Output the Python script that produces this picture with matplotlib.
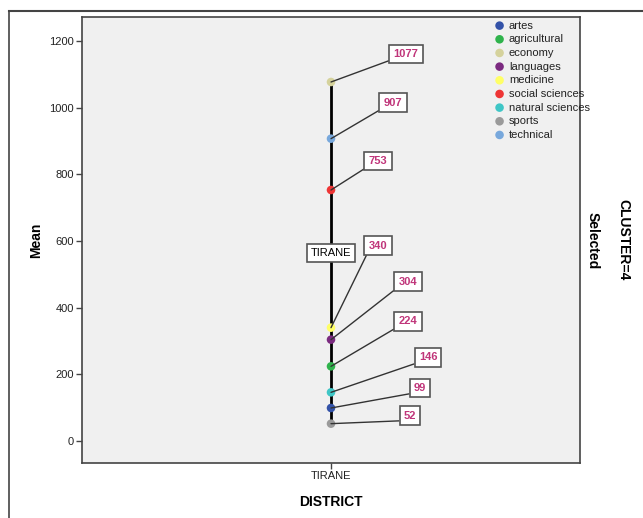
## SPSS style dot plot - mean by field, district TIRANE, cluster 4
import matplotlib
matplotlib.use('Agg')
import matplotlib.pyplot as plt
from matplotlib.lines import Line2D

plt.rcParams['font.family'] = ['Liberation Sans', 'DejaVu Sans']

## data
districts = ['TIRANE']
fields = ['artes', 'agricultural', 'economy', 'languages', 'medicine',
          'social sciences', 'natural sciences', 'sports', 'technical']
means = [99, 224, 1077, 304, 340, 753, 146, 52, 907]
colors = ['#3352a8', '#2fb34c', '#d5d29c', '#7b2a80', '#ffff66',
          '#ee3535', '#3fc6c6', '#9a9a9a', '#78a8dc']

## label offsets (pixels) for value boxes, same order as fields
label_dx = [89, 77, 75, 77, 47, 47, 97, 79, 62]
label_dy = [20, 45, 28, 58, 82, 29, 35, 8, 36]

fig = plt.figure(figsize=(6.43, 5.18), dpi=100, facecolor='white')
ax = fig.add_axes([82/643, 1-463/518, (580-82)/643, (463-17)/518])
ax.set_facecolor('#f0f0f0')

# line from min to max
x0 = 0
ax.vlines(x0, min(means), max(means), color='black', lw=2, zorder=2)

for f, v, c in zip(fields, means, colors):
    ax.scatter([x0], [v], s=38, color=c, zorder=3, label=f, edgecolors='none')

# value labels
for v, dx, dy in zip(means, label_dx, label_dy):
    ax.annotate(str(v), xy=(x0, v), xytext=(dx, dy), textcoords='offset pixels',
                ha='center', va='center', fontsize=8, fontweight='bold', color='#c0357a',
                bbox=dict(boxstyle='square,pad=0.38', fc='white', ec='#555555', lw=1.2),
                arrowprops=dict(arrowstyle='-', color='#333333', lw=1, relpos=(0, 0),
                                shrinkA=0, shrinkB=0),
                zorder=4)

# district label at the middle of the line
ax.text(x0, (min(means) + max(means)) / 2, districts[0], ha='center', va='center',
        fontsize=8, color='black', zorder=5,
        bbox=dict(boxstyle='square,pad=0.35', fc='white', ec='#555555', lw=1.2))

## axes
ax.set_xlim(-1, 1)
ax.set_ylim(-66, 1272)
ax.set_xticks([x0])
ax.set_xticklabels(districts)
ax.set_yticks([0, 200, 400, 600, 800, 1000, 1200])
ax.tick_params(axis='both', direction='out', length=4, width=1, color='#444444',
               labelsize=8, labelcolor='#222222', pad=2)
for s in ax.spines.values():
    s.set_color('#444444')
    s.set_linewidth(1.2)

ax.set_ylabel('Mean', fontsize=10, fontweight='bold', labelpad=4)
ax.set_xlabel('DISTRICT', fontsize=10, fontweight='bold', labelpad=10)

leg = ax.legend(loc='upper left', bbox_to_anchor=((484-82)/(580-82), 1.012),
                frameon=False, fontsize=8, handletextpad=0.25, borderpad=0.3,
                labelspacing=0.33, markerscale=1.0, handlelength=1.2)
for t in leg.get_texts():
    t.set_color('#222222')

## panel title on the right
fig.text(623/643, 1-240/518, 'CLUSTER=4', rotation=-90, ha='center', va='center',
         fontsize=10, fontweight='bold')
fig.text(593/643, 1-241/518, 'Selected', rotation=-90, ha='center', va='center',
         fontsize=10, fontweight='bold')

## outer frame
fig.add_artist(Line2D([9/643, 9/643], [0, 1-11/518], transform=fig.transFigure,
                      color='#444444', lw=1.2))
fig.add_artist(Line2D([9/643, 1], [1-11/518, 1-11/518], transform=fig.transFigure,
                      color='#444444', lw=1.5))

fig.savefig('out.png', dpi=100)
